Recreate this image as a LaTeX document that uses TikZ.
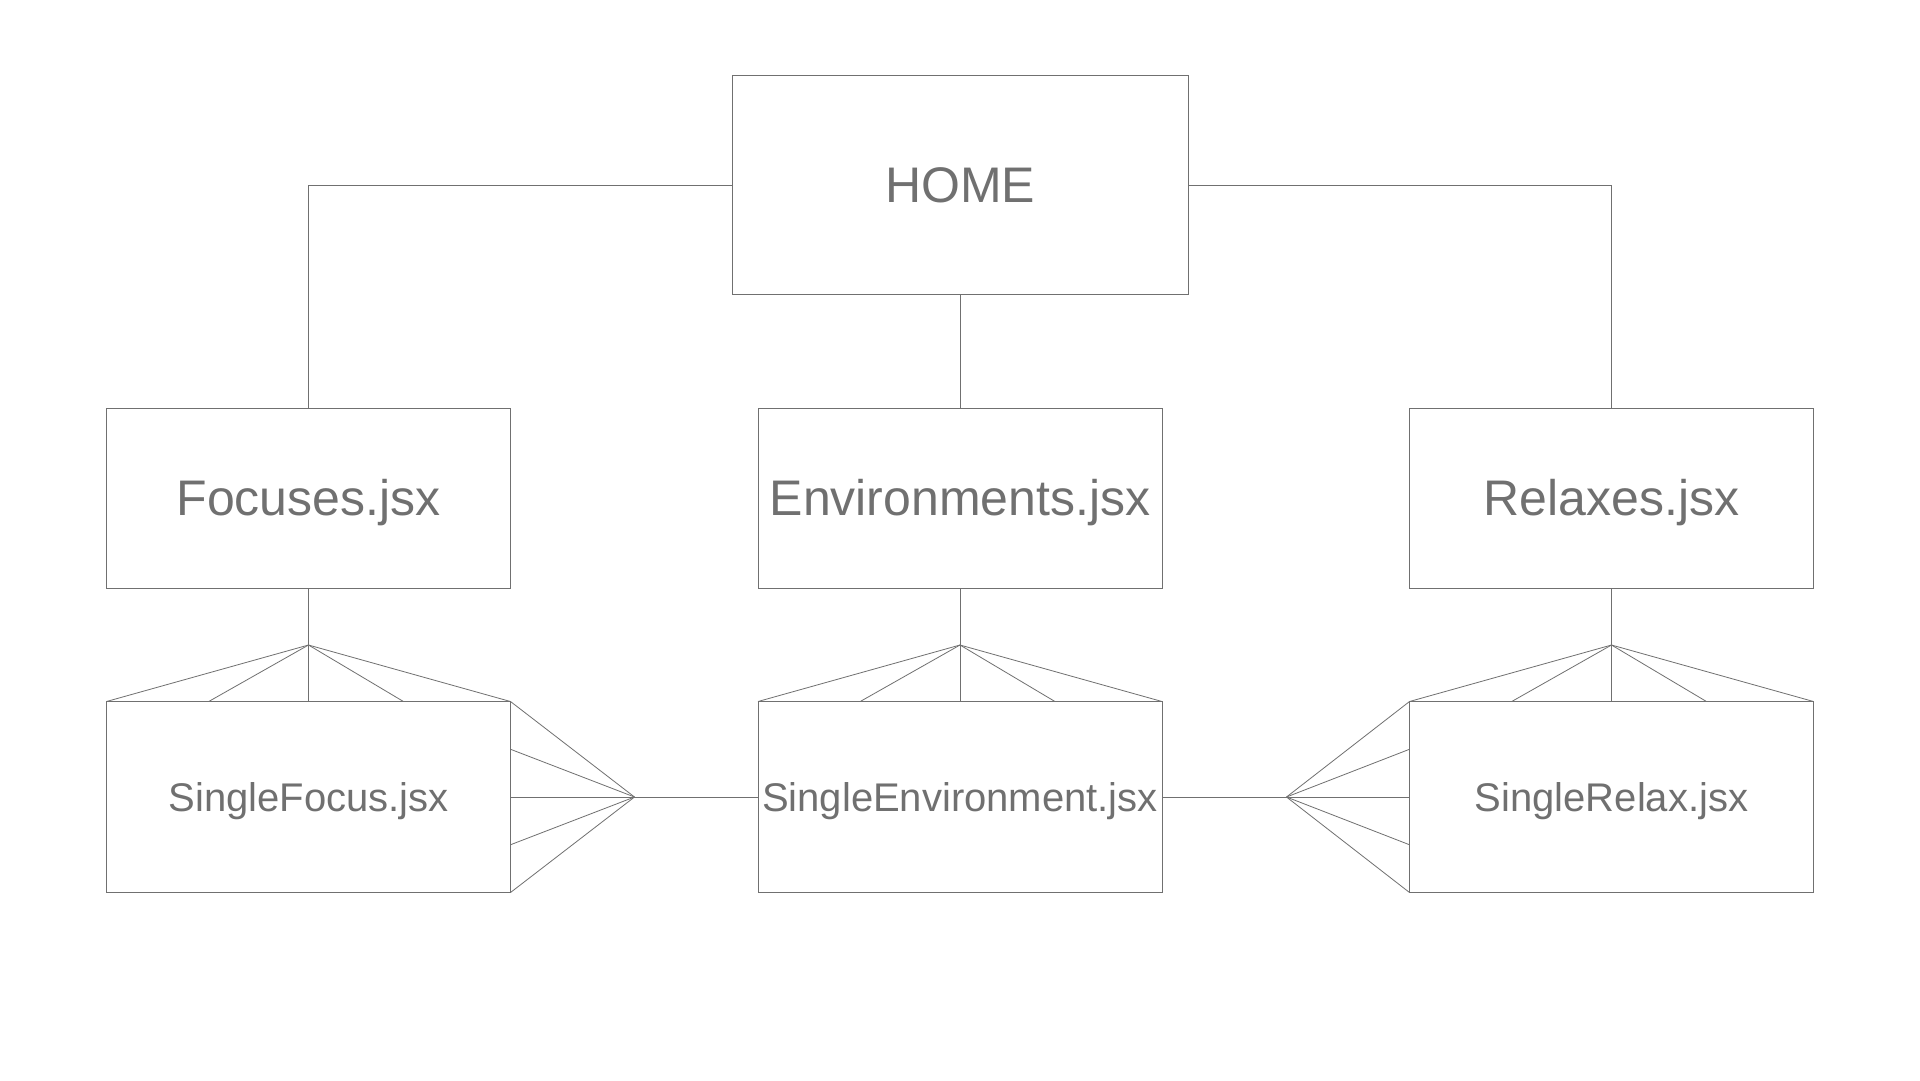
\documentclass[tikz,border=0pt]{standalone}
\usepackage{fontspec}
\setmainfont{Liberation Sans}
\usetikzlibrary{calc}
\definecolor{ink}{HTML}{707070}
\begin{document}
\begin{tikzpicture}[x=1pt,y=1pt,
  box/.style={draw=ink, line width=1pt, outer sep=0pt, inner sep=0pt, text=ink},
  bigbox/.style={box, font=\fontsize{50}{60}\selectfont, text height=35.8pt, text depth=0pt},
  smallbox/.style={box, font=\fontsize{40}{48}\selectfont, text height=28.6pt, text depth=0pt,
     minimum width=404pt, minimum height=191pt},
  link/.style={draw=ink, line width=1pt},
  fan/.style={draw=ink, line width=0.8pt}]
\useasboundingbox (0,0) rectangle (1920,-1080);
\fill[white] (0,0) rectangle (1920,-1080);

\node[bigbox, minimum width=456pt, minimum height=219pt] (home) at (960,-185) {HOME};
\node[bigbox, minimum width=404pt, minimum height=180pt] (foc) at (308.5,-498) {Focuses.jsx};
\node[bigbox, minimum width=404pt, minimum height=180pt] (env) at (960,-498) {Environments.jsx};
\node[bigbox, minimum width=404pt, minimum height=180pt] (rel) at (1611.5,-498) {Relaxes.jsx};

\node[smallbox] (sfoc) at (308.5,-797) {SingleFocus.jsx};
\node[smallbox] (senv) at (960,-797) {SingleEnvironment.jsx};
\node[smallbox] (srel) at (1611.5,-797) {SingleRelax.jsx};

% top-level connectors
\draw[link] (home.west) -| (foc.north);
\draw[link] (home.east) -| (rel.north);
\draw[link] (home.south) -- (env.north);

% fan apexes
\coordinate (fF) at (308.5,-645);
\coordinate (fE) at (960,-645);
\coordinate (fR) at (1611.5,-645);
\coordinate (sL) at (634.5,-797);
\coordinate (sR) at (1286.5,-797);

\foreach \p/\c/\b in {foc/fF/sfoc, env/fE/senv, rel/fR/srel}{
  \draw[link] (\p.south) -- (\c);
  \draw[fan] (\c) -- (\b.north west);
  \draw[fan] (\c) -- ($(\b.north west)!0.253!(\b.north east)$);
  \draw[fan] (\c) -- (\b.north);
  \draw[fan] (\c) -- ($(\b.north west)!0.735!(\b.north east)$);
  \draw[fan] (\c) -- (\b.north east);
}

% side fans
\draw[fan] (sL) -- (sfoc.north east);
\draw[fan] (sL) -- ($(sfoc.north east)!0.25!(sfoc.south east)$);
\draw[fan] (sL) -- (sfoc.east);
\draw[fan] (sL) -- ($(sfoc.north east)!0.75!(sfoc.south east)$);
\draw[fan] (sL) -- (sfoc.south east);
\draw[link] (sL) -- (senv.west);

\draw[fan] (sR) -- (srel.north west);
\draw[fan] (sR) -- ($(srel.north west)!0.25!(srel.south west)$);
\draw[fan] (sR) -- (srel.west);
\draw[fan] (sR) -- ($(srel.north west)!0.75!(srel.south west)$);
\draw[fan] (sR) -- (srel.south west);
\draw[link] (senv.east) -- (sR);
\end{tikzpicture}
\end{document}
